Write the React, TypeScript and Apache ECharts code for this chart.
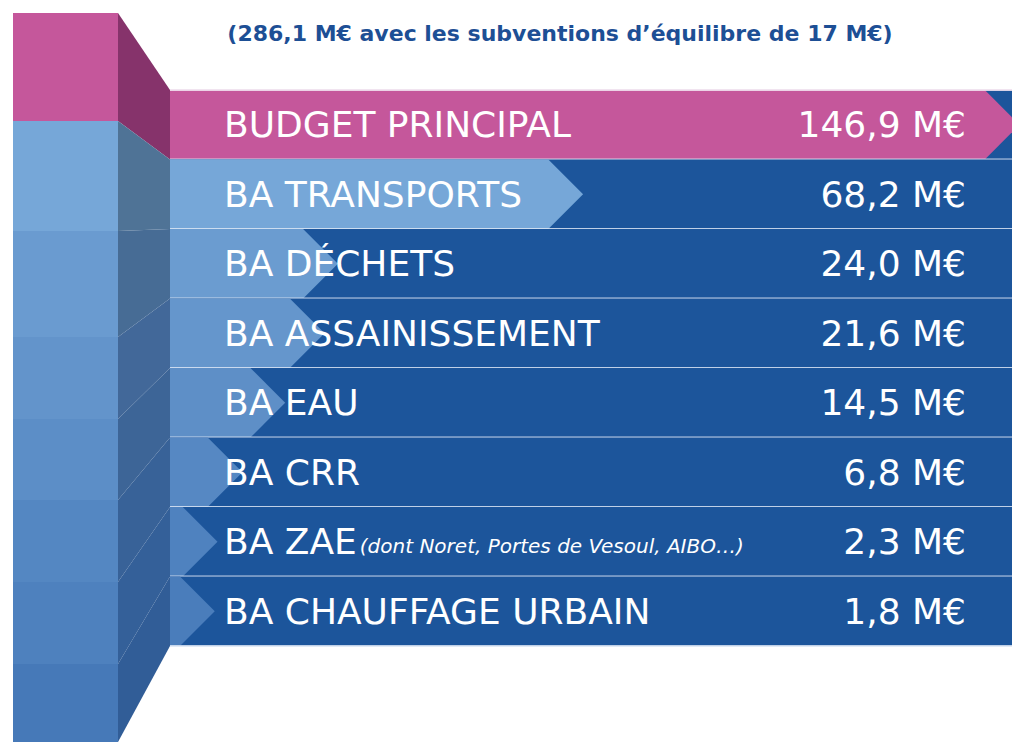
import React, { useEffect, useRef } from "react";
import * as echarts from "echarts";

const categories = [
  "BUDGET PRINCIPAL",
  "BA TRANSPORTS",
  "BA DÉCHETS",
  "BA ASSAINISSEMENT",
  "BA EAU",
  "BA CRR",
  "BA ZAE",
  "BA CHAUFFAGE URBAIN",
];
const notes = ["", "", "", "", "", "", "(dont Noret, Portes de Vesoul, AIBO…)", ""];
const values = [146.9, 68.2, 24.0, 21.6, 14.5, 6.8, 2.3, 1.8];
const unit = "M€";
const title = "(286,1 M€ avec les subventions d’équilibre de 17 M€)";

const arrowColors = ["#c5579b", "#76a7d8", "#6b9cd0", "#6596cc", "#5e8fc7", "#5688c3", "#4f82bf", "#4a7dbb"];
const frontColors = ["#c5579b", "#76a7d8", "#6a9bd0", "#6394cb", "#5c8ec7", "#5487c2", "#4e81be", "#4679b8"];
const sideColors = ["#86336b", "#4f7396", "#476c95", "#426899", "#3d6597", "#386298", "#346099", "#315d97"];
const bandColor = "#1c559b";

const LABEL_FONT = "400 36px 'DejaVu Sans', sans-serif";

const fmt = (v: number) => v.toFixed(1).replace(".", ",") + " " + unit;

export default function App() {
  const ref = useRef<HTMLDivElement>(null);
  useEffect(() => {
    if (!ref.current) return;
    const chart = echarts.init(ref.current, null, { renderer: "svg" });
    const gridLeft = 170;
    const gridTop = 90;
    const gridBottomPx = 646;
    const rowH = (gridBottomPx - gridTop) / categories.length;
    const rowEdges = categories.map((_, i) => gridTop + i * rowH).concat([gridBottomPx]);
    const frontEdges = [13, 121, 231, 337, 419, 500, 582, 664, 742];
    const frontX0 = 13;
    const frontX1 = 118;

    const graphics: any[] = [];
    for (let i = 0; i < categories.length; i++) {
      graphics.push({
        type: "rect",
        shape: { x: frontX0, y: frontEdges[i], width: frontX1 - frontX0, height: frontEdges[i + 1] - frontEdges[i] },
        style: { fill: frontColors[i] },
        silent: true,
      });
      graphics.push({
        type: "polygon",
        shape: {
          points: [
            [frontX1, frontEdges[i]],
            [gridLeft, i === 0 ? gridTop : rowEdges[i]],
            [gridLeft, i === categories.length - 1 ? gridBottomPx : rowEdges[i + 1]],
            [frontX1, frontEdges[i + 1]],
          ],
        },
        style: { fill: sideColors[i] },
        silent: true,
      });
    }
    graphics.push({
      type: "text",
      x: 560,
      y: 33,
      style: {
        text: title,
        fill: "#1d4f95",
        align: "center",
        verticalAlign: "middle",
        font: "700 22px 'DejaVu Sans', sans-serif",
      },
    });

    chart.setOption({
      animation: false,
      grid: { left: gridLeft, right: 0, top: gridTop, bottom: 742 - gridBottomPx },
      xAxis: { type: "value", min: 0, max: 151.8, show: false },
      yAxis: { type: "category", data: categories, inverse: true, show: false },
      graphic: graphics,
      series: [
        {
          type: "custom",
          clip: false,
          encode: { x: 0, y: 1 },
          data: values.map((v, i) => [v, i]),
          renderItem: (params: any, api: any) => {
            const i = params.dataIndex;
            const v = api.value(0);
            const [xe, yc] = api.coord([v, i]);
            const h = api.size([0, 1])[1];
            const top = yc - h / 2;
            const bottom = yc + h / 2;
            const cs = params.coordSys;
            const x0 = cs.x;
            const x1 = cs.x + cs.width + 10;
            const children: any[] = [
              { type: "rect", shape: { x: x0, y: top, width: x1 - x0, height: h }, style: { fill: bandColor } },
              {
                type: "polygon",
                shape: {
                  points: [
                    [x0, top],
                    [xe, top],
                    [xe + h / 2, yc],
                    [xe, bottom],
                    [x0, bottom],
                  ],
                },
                style: { fill: arrowColors[i] },
              },
              {
                type: "line",
                shape: { x1: x0, y1: bottom, x2: x1, y2: bottom },
                style: { stroke: "rgba(220,230,245,0.85)", lineWidth: 2 },
              },
            ];
            if (i === 0) {
              children.push({
                type: "line",
                shape: { x1: x0, y1: top, x2: x1, y2: top },
                style: { stroke: "rgba(240,225,238,0.9)", lineWidth: 2 },
              });
            }
            const note = notes[i];
            children.push({
              type: "text",
              x: x0 + 54,
              y: yc,
              style: note
                ? {
                    text: "{a|" + categories[i] + "}{b|" + note + "}",
                    verticalAlign: "middle",
                    align: "left",
                    rich: {
                      a: { fill: "#ffffff", font: LABEL_FONT },
                      b: { fill: "#ffffff", font: "italic 400 20px 'DejaVu Sans', sans-serif", padding: [8, 0, 0, 3] },
                    },
                  }
                : {
                    text: categories[i],
                    verticalAlign: "middle",
                    align: "left",
                    fill: "#ffffff",
                    font: LABEL_FONT,
                  },
            });
            children.push({
              type: "text",
              x: 966,
              y: yc,
              style: {
                text: fmt(values[i]),
                verticalAlign: "middle",
                align: "right",
                fill: "#ffffff",
                font: LABEL_FONT,
              },
            });
            return { type: "group", children };
          },
        },
      ],
    });
    return () => chart.dispose();
  }, []);
  return <div ref={ref} style={{ position: "fixed", left: 0, top: 0, width: 1012, height: 742, background: "#fff" }} />;
}
